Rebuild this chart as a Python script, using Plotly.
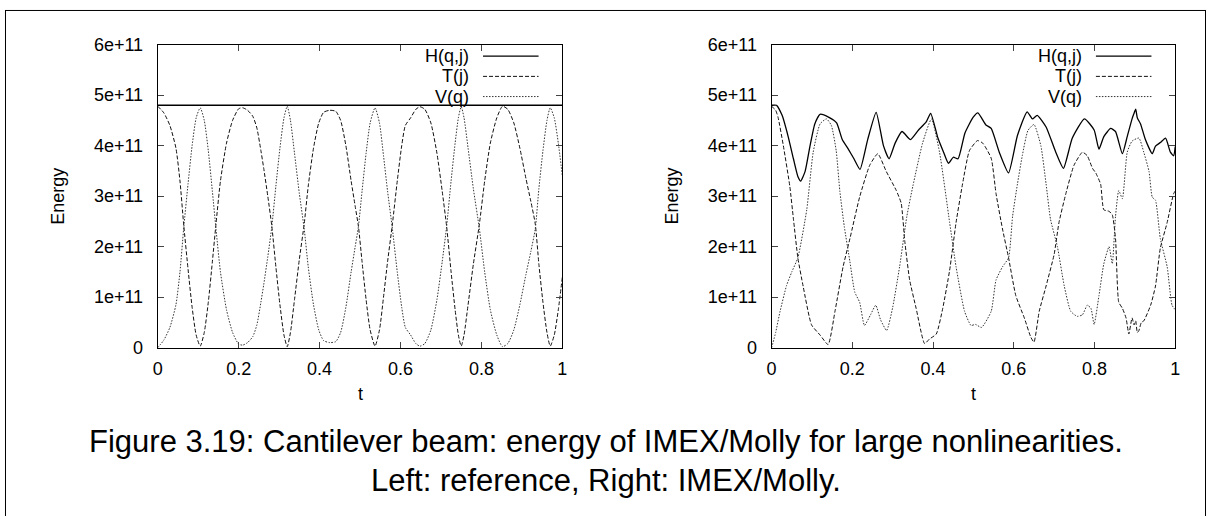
import plotly.graph_objects as go

# ---------------- data (energies in units of 1e11) ----------------
t_H_left = [0.0, 1.0]
H_left = [4.80, 4.80]

t_left = [0.000,0.015,0.030,0.045,0.055,0.064,0.075,0.085,0.095,0.105,0.115,0.125,0.135,0.144,0.155,0.170,0.185,0.200,0.210,0.222,
          0.235,0.245,0.255,0.262,0.272,0.282,0.292,0.302,0.312,0.320,0.328,0.338,0.350,0.362,0.372,0.385,0.398,0.410,0.425,0.440,
          0.452,0.465,0.478,0.488,0.496,0.505,0.515,0.525,0.537,0.548,0.558,0.568,0.580,0.592,0.603,0.612,0.625,0.638,0.648,0.660,
          0.675,0.690,0.703,0.714,0.725,0.735,0.743,0.750,0.757,0.767,0.780,0.795,0.808,0.822,0.838,0.852,0.865,0.880,0.895,0.910,
          0.922,0.933,0.942,0.952,0.962,0.970,0.980,0.990,1.000]
T_left = [4.78,4.65,4.40,3.95,3.30,2.45,1.55,0.80,0.25,0.03,0.30,0.90,1.70,2.45,3.30,4.05,4.50,4.73,4.75,4.70,
          4.58,4.35,3.90,3.55,3.00,2.40,1.60,0.85,0.25,0.02,0.30,0.95,1.75,2.45,3.20,3.95,4.45,4.66,4.70,4.68,
          4.50,4.00,3.30,2.80,2.40,1.70,0.95,0.35,0.03,0.35,1.00,1.70,2.45,3.30,4.00,4.40,4.55,4.72,4.77,4.72,
          4.45,3.85,3.10,2.40,1.50,0.75,0.25,0.03,0.25,0.85,1.65,2.45,3.30,4.05,4.55,4.78,4.72,4.45,3.95,3.35,
          2.90,2.45,1.65,0.90,0.30,0.03,0.25,0.75,1.40]
V_left = [0.00,0.15,0.40,0.85,1.50,2.35,3.25,4.00,4.55,4.75,4.50,3.90,3.10,2.35,1.50,0.75,0.30,0.07,0.05,0.10,
          0.22,0.45,0.90,1.25,1.80,2.40,3.20,3.95,4.55,4.78,4.50,3.85,3.05,2.35,1.60,0.85,0.35,0.14,0.10,0.12,
          0.30,0.80,1.50,2.00,2.40,3.10,3.85,4.45,4.75,4.45,3.80,3.10,2.35,1.50,0.80,0.40,0.25,0.08,0.03,0.08,
          0.35,0.95,1.70,2.40,3.30,4.05,4.55,4.77,4.55,3.95,3.15,2.35,1.50,0.75,0.25,0.02,0.08,0.35,0.85,1.45,
          1.90,2.35,3.15,3.90,4.50,4.75,4.55,4.05,3.40]

t_H_right = [0.000,0.012,0.026,0.041,0.054,0.065,0.072,0.083,0.095,0.107,0.120,0.142,0.161,0.175,0.190,0.204,0.219,0.238,0.259,0.277,
             0.291,0.306,0.323,0.344,0.364,0.383,0.394,0.412,0.426,0.438,0.450,0.462,0.479,0.499,0.511,0.531,0.544,0.564,0.587,0.609,
             0.633,0.646,0.658,0.680,0.704,0.723,0.745,0.775,0.799,0.811,0.823,0.840,0.852,0.869,0.881,0.893,0.897,0.902,0.906,0.914,
             0.926,0.943,0.951,0.963,0.976,0.988,0.996,1.000]
H_right = [4.80,4.80,4.60,4.18,3.74,3.39,3.30,3.49,3.99,4.43,4.62,4.56,4.45,4.12,3.93,3.74,3.53,4.12,4.66,4.00,
           3.74,4.05,4.28,4.12,4.31,4.47,4.64,4.15,3.87,3.65,3.77,3.74,4.25,4.56,4.65,4.41,4.34,3.87,3.46,4.20,
           4.67,4.53,4.60,4.37,3.87,3.55,4.15,4.53,4.31,3.93,4.18,4.34,4.28,3.84,4.18,4.53,4.62,4.72,4.55,4.43,
           4.12,3.84,3.99,4.06,4.15,3.87,3.80,3.98]

t_T_right = [0.000,0.010,0.016,0.029,0.045,0.054,0.065,0.078,0.099,0.120,0.140,0.157,0.177,0.194,0.218,0.243,0.263,0.284,0.309,0.321,
             0.330,0.342,0.358,0.379,0.391,0.408,0.424,0.441,0.457,0.473,0.490,0.510,0.523,0.544,0.556,0.572,0.587,0.605,0.626,0.642,
             0.650,0.663,0.680,0.700,0.712,0.729,0.749,0.770,0.782,0.795,0.803,0.815,0.823,0.836,0.844,0.852,0.860,0.869,0.878,0.885,
             0.893,0.898,0.902,0.906,0.910,0.916,0.922,0.939,0.951,0.963,0.980,0.996,1.000]
T_right = [4.78,4.70,4.56,4.00,3.20,2.55,1.78,1.22,0.45,0.25,0.06,0.72,1.60,2.16,2.98,3.61,3.84,3.49,3.11,2.86,
           2.10,1.34,0.78,0.08,0.17,0.27,0.78,1.53,2.48,3.24,3.90,4.10,4.05,3.75,3.05,2.35,1.78,1.03,0.59,0.21,
           0.11,0.72,1.22,1.85,2.48,3.05,3.61,3.87,3.80,3.55,3.46,3.24,2.73,2.70,2.63,2.16,0.90,0.78,0.59,0.27,
           0.59,0.45,0.53,0.30,0.34,0.50,0.53,0.84,1.22,1.97,2.48,3.05,3.10]

t_V_right = [0.000,0.010,0.021,0.037,0.050,0.065,0.087,0.103,0.120,0.136,0.148,0.160,0.169,0.180,0.194,0.206,0.218,0.230,0.245,0.258,
             0.270,0.285,0.300,0.317,0.335,0.350,0.374,0.396,0.416,0.441,0.457,0.478,0.494,0.505,0.520,0.544,0.556,0.572,0.587,0.597,
             0.609,0.621,0.635,0.650,0.667,0.680,0.691,0.708,0.725,0.741,0.757,0.770,0.782,0.791,0.799,0.811,0.823,0.836,0.844,0.852,
             0.860,0.869,0.881,0.893,0.910,0.922,0.935,0.943,0.951,0.963,0.980,0.992,1.000]
V_right = [0.00,0.30,0.72,1.23,1.50,1.78,2.73,3.87,4.43,4.53,4.40,3.90,3.10,2.40,1.70,1.10,0.90,0.44,0.65,0.84,
           0.55,0.34,0.80,1.60,2.60,3.20,4.05,4.53,3.87,2.48,1.60,0.72,0.44,0.46,0.40,0.72,1.34,1.60,1.78,2.60,
           3.24,3.80,4.30,4.42,4.00,3.24,2.54,2.00,1.22,0.72,0.62,0.65,0.84,0.78,0.46,1.03,1.66,2.00,1.66,2.60,
           3.11,2.95,3.87,4.09,4.15,3.87,3.49,2.98,2.92,2.16,1.60,0.84,0.75]

SCALE = 1e11
y_tickvals = [0, 1, 2, 3, 4, 5, 6]
y_ticktext = ["0", "1e+11", "2e+11", "3e+11", "4e+11", "5e+11", "6e+11"]
x_tickvals = [0, 0.2, 0.4, 0.6, 0.8, 1]
x_ticktext = ["0", "0.2", "0.4", "0.6", "0.8", "1"]
series_names = ["H(q,j)", "T(j)", "V(q)"]
caption_lines = ["Figure 3.19: Cantilever beam: energy of IMEX/Molly for large nonlinearities.",
                 "Left: reference, Right: IMEX/Molly."]

# ---------------- layout geometry (pixels) ----------------
W, H = 1211, 526
FONT = "Liberation Sans, Arial, Helvetica, sans-serif"
left_px = (154, 562)
right_px = (773, 1180)
top_px, bot_px = 36, 351
FS = 18

def px_x(x):
    return x / W

def px_y(y):
    return 1 - y / H

styles = [dict(color="black", width=1.3, dash="solid"),
          dict(color="#111111", width=1.0, dash="4px,2px"),
          dict(color="#333333", width=1.0, dash="1.5px,1.5px")]

fig = go.Figure()

def add_line(t, v, style, xa, ya, smooth):
    fig.add_trace(go.Scatter(x=t, y=[val * SCALE for val in v], mode="lines",
                             line=dict(color=style["color"], width=style["width"], dash=style["dash"],
                                       shape="spline", smoothing=smooth),
                             xaxis=xa, yaxis=ya, showlegend=False, hoverinfo="skip"))

add_line(t_H_left, H_left, styles[0], "x", "y", 0.6)
add_line(t_left, T_left, styles[1], "x", "y", 0.6)
add_line(t_left, V_left, styles[2], "x", "y", 0.6)
add_line(t_H_right, H_right, styles[0], "x2", "y2", 0.5)
add_line(t_T_right, T_right, styles[1], "x2", "y2", 0.5)
add_line(t_V_right, V_right, styles[2], "x2", "y2", 0.5)

tickfont = dict(family=FONT, size=FS, color="black")
xaxis_common = dict(range=[0, 1], tickvals=x_tickvals, ticktext=x_ticktext, ticks="inside", ticklen=6,
                    showline=True, linecolor="black", linewidth=1, mirror="ticks", showgrid=False,
                    zeroline=False, tickfont=tickfont, ticklabelstandoff=5, fixedrange=True)
yaxis_common = dict(range=[0, 6 * SCALE], tickvals=[v * SCALE for v in y_tickvals], ticktext=y_ticktext,
                    ticks="inside", ticklen=6, showline=True, linecolor="black", linewidth=1, mirror="ticks",
                    showgrid=False, zeroline=False, tickfont=tickfont, ticklabelstandoff=10, fixedrange=True)

ydom = [px_y(bot_px), px_y(top_px)]
fig.update_layout(
    width=W, height=H, margin=dict(l=0, r=0, t=0, b=0),
    paper_bgcolor="white", plot_bgcolor="white",
    xaxis=dict(domain=[px_x(left_px[0]), px_x(left_px[1])], anchor="y", **xaxis_common),
    yaxis=dict(domain=ydom, anchor="x", **yaxis_common),
    xaxis2=dict(domain=[px_x(right_px[0]), px_x(right_px[1])], anchor="y2", **xaxis_common),
    yaxis2=dict(domain=ydom, anchor="x2", **yaxis_common),
)

annotations = []
shapes = []
for (x0, x1) in (left_px, right_px):
    cx = (x0 + x1) / 2
    annotations.append(dict(text="Energy", x=px_x(x0 - 100), y=px_y((top_px + bot_px) / 2), xref="paper", yref="paper",
                            showarrow=False, textangle=-90, font=dict(family=FONT, size=FS, color="black"),
                            xanchor="center", yanchor="middle"))
    annotations.append(dict(text="t", x=px_x(cx), y=px_y(399), xref="paper", yref="paper", showarrow=False,
                            font=dict(family=FONT, size=FS, color="black"), xanchor="center", yanchor="middle"))
    for i, name in enumerate(series_names):
        yy = 48 + 21 * i
        annotations.append(dict(text=name, x=px_x(x1 - 92), y=px_y(yy), xref="paper", yref="paper",
                                showarrow=False, font=dict(family=FONT, size=FS, color="black"),
                                xanchor="right", yanchor="middle"))
        shapes.append(dict(type="line", xref="paper", yref="paper", x0=px_x(x1 - 80), x1=px_x(x1 - 24),
                           y0=px_y(yy), y1=px_y(yy),
                           line=dict(color=styles[i]["color"], width=styles[i]["width"], dash=styles[i]["dash"])))

annotations.append(dict(text=caption_lines[0], x=0.5, y=px_y(449), xref="paper", yref="paper", showarrow=False,
                        font=dict(family=FONT, size=31, color="black"), xanchor="center", yanchor="middle"))
annotations.append(dict(text=caption_lines[1], x=0.5, y=px_y(489), xref="paper", yref="paper", showarrow=False,
                        font=dict(family=FONT, size=31, color="black"), xanchor="center", yanchor="middle"))

# page border (left, top, right)
shapes.append(dict(type="line", xref="paper", yref="paper", x0=px_x(0.5), x1=px_x(0.5), y0=0, y1=1,
                   line=dict(color="black", width=1)))
shapes.append(dict(type="line", xref="paper", yref="paper", x0=0, x1=1, y0=px_y(0.5), y1=px_y(0.5),
                   line=dict(color="black", width=1)))
shapes.append(dict(type="line", xref="paper", yref="paper", x0=px_x(1210.5), x1=px_x(1210.5), y0=0, y1=1,
                   line=dict(color="black", width=1)))

fig.update_layout(annotations=annotations, shapes=shapes)
fig.write_html("out.html")
